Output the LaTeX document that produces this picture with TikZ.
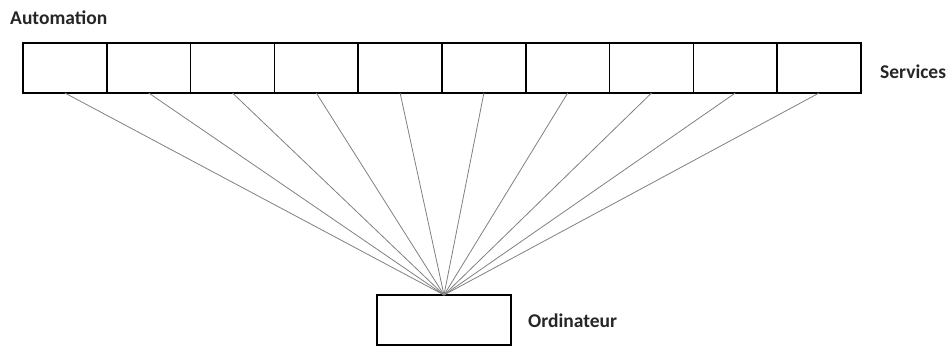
\documentclass[tikz,border=0pt]{standalone}
\usepackage{fontspec}
\setmainfont{Carlito}
\tikzset{
  cell/.style={draw=black, line width=1.6pt, minimum width=83.8pt, minimum height=50pt, inner sep=0pt, outer sep=0pt},
  link/.style={draw=black!50, line width=0.8pt},
  lbl/.style={anchor=west, inner sep=0pt, font=\bfseries\fontsize{19.5}{22}\selectfont, text=black!85}
}
\begin{document}
\begin{tikzpicture}[x=1pt, y=-1pt]
  \useasboundingbox (0,0) rectangle (951,350);
  % row of service cells
  \foreach \i in {1,...,10} {
    \node[cell] (s\i) at ({23 + 83.8*(\i-0.5)}, 68) {};
  }
  % computer
  \node[cell, minimum width=134pt] (pc) at (444, 320) {};
  % links from every service to the computer
  \foreach \i in {1,...,10} {
    \draw[link] (s\i.south) -- (pc.north);
  }
  \node[lbl] (t1) at (10, 18) {Automation};
  \node[lbl] (t2) at (880, 72) {Services};
  \node[lbl] (t3) at (528, 321) {Ordinateur};
\end{tikzpicture}
\end{document}
